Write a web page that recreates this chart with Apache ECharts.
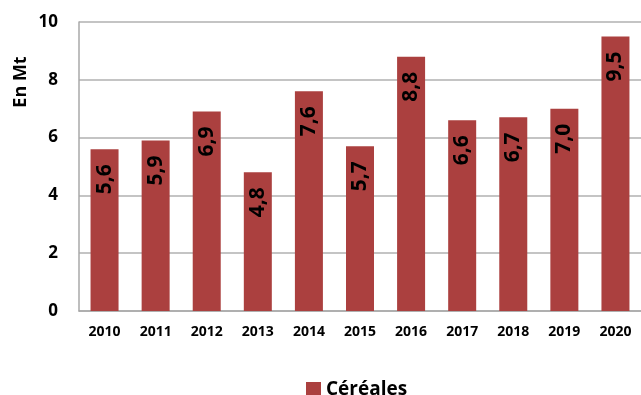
<!DOCTYPE html>
<html>
<head>
<meta charset="utf-8">
<script src="https://cdn.jsdelivr.net/npm/echarts@6/dist/echarts.min.js"></script>
<style>
  html, body { margin: 0; padding: 0; background: #fff; }
  #chart { width: 641px; height: 395px; }
</style>
</head>
<body>
<div id="chart"></div>
<script>
// Cereal volumes per year, in million tonnes
const years = ['2010', '2011', '2012', '2013', '2014', '2015', '2016', '2017', '2018', '2019', '2020'];
const cereales = [5.6, 5.9, 6.9, 4.8, 7.6, 5.7, 8.8, 6.6, 6.7, 7.0, 9.5];
const seriesName = 'Céréales';
const unitLabel = 'En Mt';

const FONT = '"Open Sans", "DejaVu Sans", sans-serif';
const BAR = '#AB403F';

const chart = echarts.init(document.getElementById('chart'), null, { renderer: 'canvas' });

chart.setOption({
  animation: false,
  textStyle: { fontFamily: FONT },
  grid: { left: 79, top: 22, width: 568, height: 289, containLabel: false },
  legend: {
    left: 301,
    top: 375,
    itemWidth: 15,
    itemHeight: 15,
    itemGap: 6,
    icon: 'rect',
    textStyle: { fontFamily: FONT, fontWeight: 'bold', fontSize: 19, color: '#000' },
    data: [seriesName]
  },
  xAxis: {
    type: 'category',
    data: years,
    axisLine: { show: true, lineStyle: { color: '#A8A8A8', width: 1.5 } },
    axisTick: { show: false },
    axisLabel: { color: '#000', fontWeight: 'bold', fontSize: 14, margin: 14, fontFamily: FONT }
  },
  yAxis: {
    type: 'value',
    min: 0,
    max: 10,
    interval: 2,
    axisLine: { show: true, lineStyle: { color: '#A8A8A8', width: 1.5 } },
    axisTick: { show: false },
    splitLine: { show: true, lineStyle: { color: '#B0B0B0', width: 1.5 } },
    axisLabel: { color: '#000', fontWeight: 'bold', fontSize: 17, margin: 21, fontFamily: FONT }
  },
  graphic: [{
    type: 'text',
    x: 21,
    y: 82,
    rotation: Math.PI / 2,
    style: {
      text: unitLabel,
      font: 'bold 18px ' + FONT,
      fill: '#000',
      textAlign: 'center',
      textVerticalAlign: 'middle'
    }
  }],
  series: [{
    name: seriesName,
    type: 'bar',
    data: cereales,
    barWidth: 28,
    itemStyle: { color: BAR },
    label: {
      show: true,
      position: 'insideTop',
      rotate: 90,
      align: 'right',
      verticalAlign: 'middle',
      distance: 15,
      color: '#000',
      fontWeight: 'bold',
      fontSize: 21,
      fontFamily: FONT,
      formatter: p => p.value.toFixed(1).replace('.', ',')
    }
  }]
});
</script>
</body>
</html>
